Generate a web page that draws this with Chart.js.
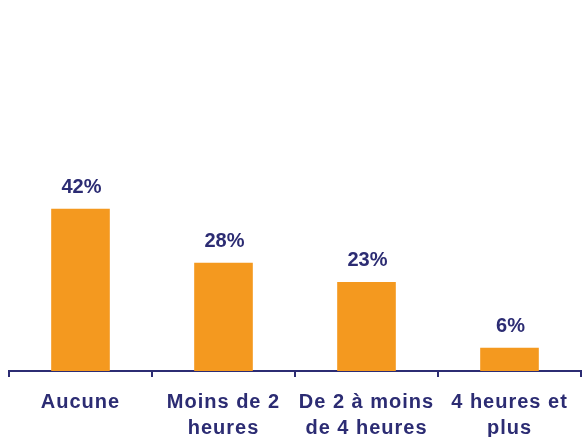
<!DOCTYPE html>
<html>
<head>
    <title>Temps passé</title>
    <script src="https://cdn.jsdelivr.net/npm/chart.js"></script>
    <style>
        html, body {
            margin: 0;
            padding: 0;
            background: #fff;
            overflow: hidden;
        }
        #wrap {
            width: 582px;
            height: 453px;
        }
    </style>
</head>
<body>
    <div id="wrap">
        <canvas id="barChart"></canvas>
    </div>

    <script>
        // Data
        const categories = [
            ['Aucune'],
            ['Moins de 2', 'heures'],
            ['De 2 à moins', 'de 4 heures'],
            ['4 heures et', 'plus']
        ];
        const values = [42, 28, 23, 6];
        const valueLabels = ['42%', '28%', '23%', '6%'];

        const orange = '#F4991F';
        const navy = '#2C2C73';

        // Percent labels drawn above each bar
        const barLabels = {
            id: 'barLabels',
            beforeDraw(chart) {
                chart.ctx.letterSpacing = '1px';
            },
            afterDatasetsDraw(chart) {
                const ctx = chart.ctx;
                ctx.save();
                ctx.letterSpacing = '0px';
                ctx.font = 'bold 20px "Liberation Sans", Arial, sans-serif';
                ctx.fillStyle = navy;
                ctx.textAlign = 'center';
                ctx.textBaseline = 'alphabetic';
                chart.getDatasetMeta(0).data.forEach((bar, i) => {
                    ctx.fillText(valueLabels[i], bar.x + 1, bar.y - 16);
                });
                ctx.restore();
            }
        };

        const ctx = document.getElementById('barChart').getContext('2d');
        const chart = new Chart(ctx, {
            type: 'bar',
            data: {
                labels: categories,
                datasets: [{
                    data: values,
                    backgroundColor: orange,
                    borderWidth: 0,
                    barPercentage: 0.41,
                    categoryPercentage: 1
                }]
            },
            options: {
                responsive: true,
                maintainAspectRatio: false,
                animation: false,
                layout: {
                    padding: { left: 9, right: 1, top: 0, bottom: 0 }
                },
                plugins: {
                    legend: { display: false },
                    tooltip: { enabled: false }
                },
                scales: {
                    x: {
                        offset: true,
                        grid: {
                            offset: true,
                            drawOnChartArea: false,
                            drawTicks: true,
                            tickLength: 6,
                            color: navy,
                            lineWidth: 2
                        },
                        border: { display: true, color: navy, width: 2 },
                        ticks: {
                            color: navy,
                            padding: 12,
                            maxRotation: 0,
                            autoSkip: false,
                            font: {
                                family: '"Liberation Sans", Arial, sans-serif',
                                size: 20,
                                weight: 'bold',
                                lineHeight: 1.3
                            }
                        }
                    },
                    y: {
                        display: false,
                        min: 0,
                        max: 96
                    }
                }
            },
            plugins: [barLabels]
        });
    </script>
</body>
</html>
